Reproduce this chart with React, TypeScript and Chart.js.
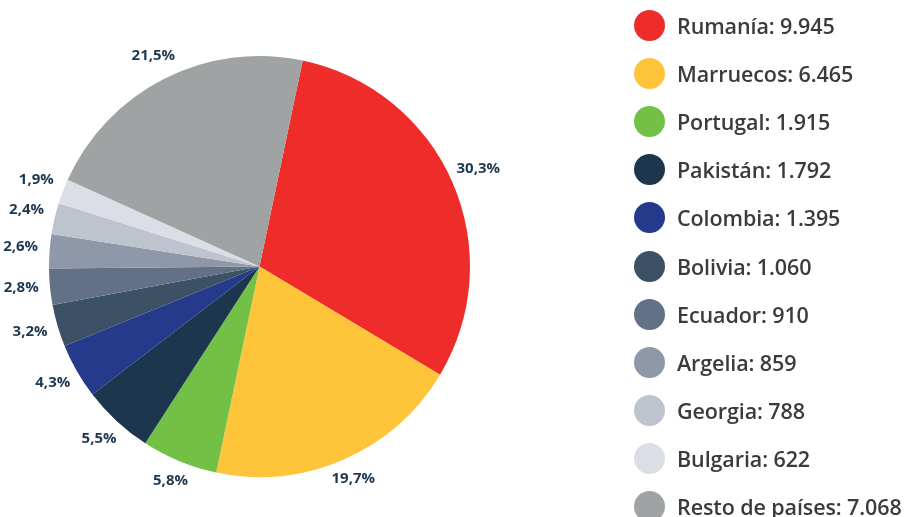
import React, { useEffect, useRef } from "react";
import { Chart, registerables } from "chart.js";

Chart.register(...registerables);

const categories = [
  "Rumanía",
  "Marruecos",
  "Portugal",
  "Pakistán",
  "Colombia",
  "Bolivia",
  "Ecuador",
  "Argelia",
  "Georgia",
  "Bulgaria",
  "Resto de países",
];
const values = [9945, 6465, 1915, 1792, 1395, 1060, 910, 859, 788, 622, 7068];
const valueLabels = ["9.945", "6.465", "1.915", "1.792", "1.395", "1.060", "910", "859", "788", "622", "7.068"];
const percentLabels = ["30,3%", "19,7%", "5,8%", "5,5%", "4,3%", "3,2%", "2,8%", "2,6%", "2,4%", "1,9%", "21,5%"];
const colors = [
  "#ee2d2a",
  "#fec43a",
  "#72c045",
  "#1c374d",
  "#253a8a",
  "#3c5066",
  "#627185",
  "#8e98a8",
  "#bec4ce",
  "#dcdee5",
  "#9fa3a4",
];

const LABEL_FONT = "bold 15px 'Open Sans', sans-serif";
const LABEL_COLOR = "#1e3850";

const outsideLabels = {
  id: "outsideLabels",
  afterDatasetsDraw(chart: any) {
    const ctx = chart.ctx;
    const meta = chart.getDatasetMeta(0);
    ctx.save();
    ctx.font = LABEL_FONT;
    ctx.fillStyle = LABEL_COLOR;
    ctx.textAlign = "center";
    ctx.textBaseline = "middle";
    meta.data.forEach((arc: any, i: number) => {
      const { x, y, startAngle, endAngle, outerRadius } = arc.getProps(
        ["x", "y", "startAngle", "endAngle", "outerRadius"],
        true
      );
      const mid = (startAngle + endAngle) / 2;
      const dx = Math.cos(mid);
      const dy = Math.sin(mid);
      const d = outerRadius + 20 + 9 * Math.abs(dx);
      ctx.fillText(percentLabels[i], x + dx * d, y + dy * d - 2);
    });
    ctx.restore();
  },
};

export default function App() {
  const canvasRef = useRef<HTMLCanvasElement | null>(null);

  useEffect(() => {
    document.body.style.margin = "0";
    const chart = new Chart(canvasRef.current as HTMLCanvasElement, {
      type: "pie",
      data: {
        labels: categories,
        datasets: [
          {
            data: values,
            backgroundColor: colors,
            borderWidth: 0,
          },
        ],
      },
      options: {
        animation: false,
        responsive: false,
        rotation: 11.85,
        layout: { padding: { left: 49, right: 437, top: 56, bottom: 40 } },
        plugins: {
          legend: { display: false },
          tooltip: { enabled: false },
        },
      },
      plugins: [outsideLabels],
    });
    return () => chart.destroy();
  }, []);

  return (
    <div style={{ position: "relative", width: 907, height: 517, overflow: "hidden", background: "#fff" }}>
      <canvas ref={canvasRef} width={907} height={517} style={{ position: "absolute", left: 0, top: 0 }} />
      {categories.map((c, i) => (
        <div
          key={c}
          style={{
            position: "absolute",
            left: 634,
            top: 25.5 + i * 48.1 - 16,
            height: 32,
            display: "flex",
            alignItems: "center",
            whiteSpace: "nowrap",
          }}
        >
          <span
            style={{
              display: "inline-block",
              flex: "none",
              width: 31,
              height: 31,
              borderRadius: "50%",
              background: colors[i],
              marginRight: 12,
            }}
          />
          <span
            style={{
              fontFamily: "'Open Sans', sans-serif",
              fontSize: 21.5,
              color: "#3b3b3d",
              fontWeight: 600,
              letterSpacing: -0.1,
            }}
          >
            {c}: {valueLabels[i]}
          </span>
        </div>
      ))}
    </div>
  );
}
